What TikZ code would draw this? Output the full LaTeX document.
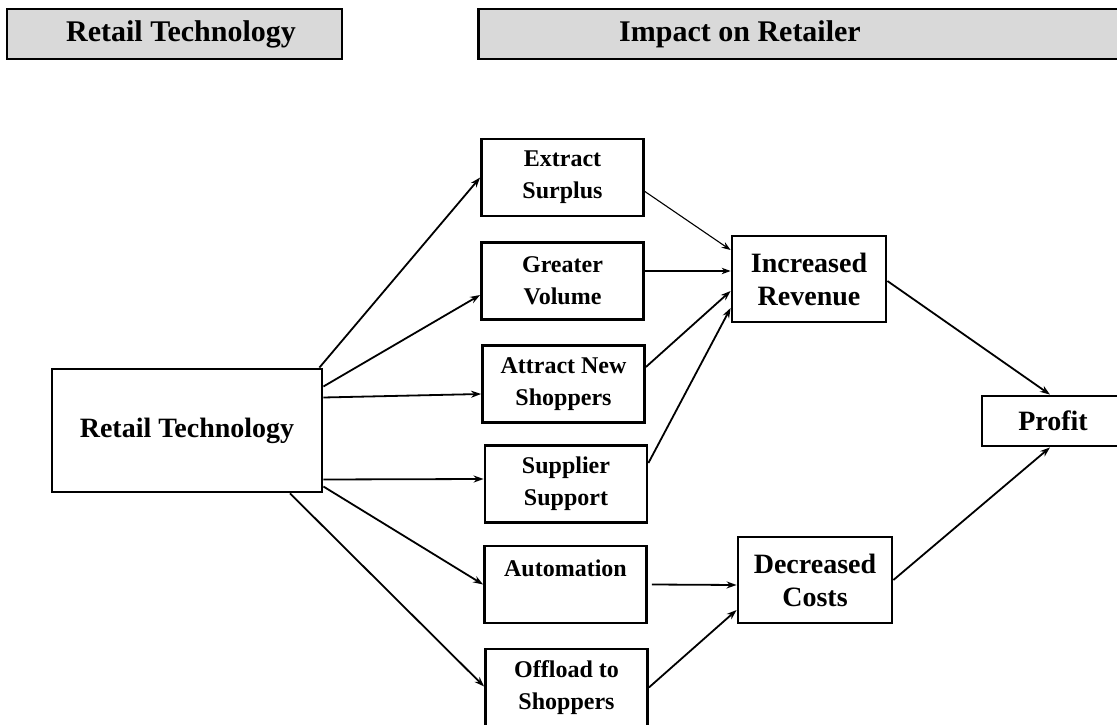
\documentclass[tikz,border=0pt]{standalone}
\usepackage{fontspec}
\setmainfont{Liberation Serif}
\usetikzlibrary{positioning,arrows,arrows.meta}

\begin{document}
\begin{tikzpicture}[
x=1pt, y=1pt,
headnode/.style={rectangle, draw=black, fill=black!15, line width=2.8pt, minimum height=50pt, inner sep=0pt},
headtext/.style={font=\bfseries\fontsize{30}{32}\selectfont, inner sep=0pt},
smallnode/.style={rectangle, draw=black, line width=2.8pt, align=center, inner sep=0pt, minimum width=162pt, minimum height=77pt, font=\bfseries\fontsize{24}{32}\selectfont},
bignode/.style={rectangle, draw=black, line width=2.8pt, align=center, inner sep=0pt, font=\bfseries\fontsize{28}{33}\selectfont},
link/.style={->, >={Stealth[length=10pt,width=7pt]}, line width=1.8pt},
thinlink/.style={->, >={Stealth[length=9pt,width=6.5pt]}, line width=1.1pt}
]
    \useasboundingbox (0,0) rectangle (1117,724);

    %Headers
    \node[headnode, minimum width=335pt] 
        (hdrL)  at (174.5,690)  {};
    \node[headtext]  
        (hdrLtext) at (181,690) {Retail Technology};
    \node[headnode, minimum width=653pt, anchor=west] 
        (hdrR)  at (477,690)    {};
    \node[headtext]  
        (hdrRtext) at (740,690) {Impact on Retailer};

    %Nodes
    \node[bignode, minimum width=270pt, minimum height=123pt]
        (tech)  at (187,293.5)  {Retail Technology};
    \node[smallnode]
        (surplus)   at (562.5,546.5)    {Extract\\Surplus};
    \node[smallnode]
        (volume)    at (562.5,443)      {Greater\\Volume};
    \node[smallnode]
        (newshop)   at (563.5,340)      {Attract New\\Shoppers};
    \node[smallnode]
        (supplier)  at (566,240)        {Supplier\\Support};
    \node[smallnode]
        (auto)      at (565.5,139.5)    {Automation\\\mbox{}};
    \node[smallnode]
        (offload)   at (566.5,36.5)     {Offload to\\Shoppers};
    \node[bignode, minimum width=154pt, minimum height=86pt]
        (revenue)   at (809,445)        {Increased\\Revenue};
    \node[bignode, minimum width=154pt, minimum height=86pt]
        (costs)     at (815,144)        {Decreased\\Costs};
    \node[bignode, minimum width=142pt, minimum height=50pt]
        (profit)    at (1053,303)       {Profit};

    %Lines
    \draw[link] ([xshift=-4pt]tech.north east) -- (surplus.west);
    \draw[link] ([yshift=44pt]tech.east) -- ([yshift=-14pt]volume.west);
    \draw[link] ([yshift=33pt]tech.east) -- ([yshift=-10pt]newshop.west);
    \draw[link] ([yshift=-49pt]tech.east) -- ([yshift=5pt]supplier.west);
    \draw[link] ([yshift=-56pt]tech.east) -- (auto.west);
    \draw[link] ([xshift=103pt]tech.south) -- ([yshift=1pt]offload.west);

    \draw[thinlink] ([yshift=-14pt]surplus.east) -- ([yshift=29pt]revenue.west);
    \draw[thinlink] ([yshift=10pt]volume.east) -- ([yshift=8pt]revenue.west);
    \draw[link] ([yshift=17pt]newshop.east) -- ([yshift=-12pt]revenue.west);
    \draw[link] ([yshift=21pt]supplier.east) -- ([yshift=-29pt]revenue.west);

    \draw[link] ([xshift=4pt]auto.east) -- ([yshift=-5pt]costs.west);
    \draw[link] ([yshift=0pt]offload.east) -- ([yshift=-30pt]costs.west);

    \draw[link] ([yshift=-2pt]revenue.east) -- ([xshift=-3pt]profit.north);
    \draw[link] (costs.east) -- ([xshift=-3pt]profit.south);
\end{tikzpicture}
\end{document}
